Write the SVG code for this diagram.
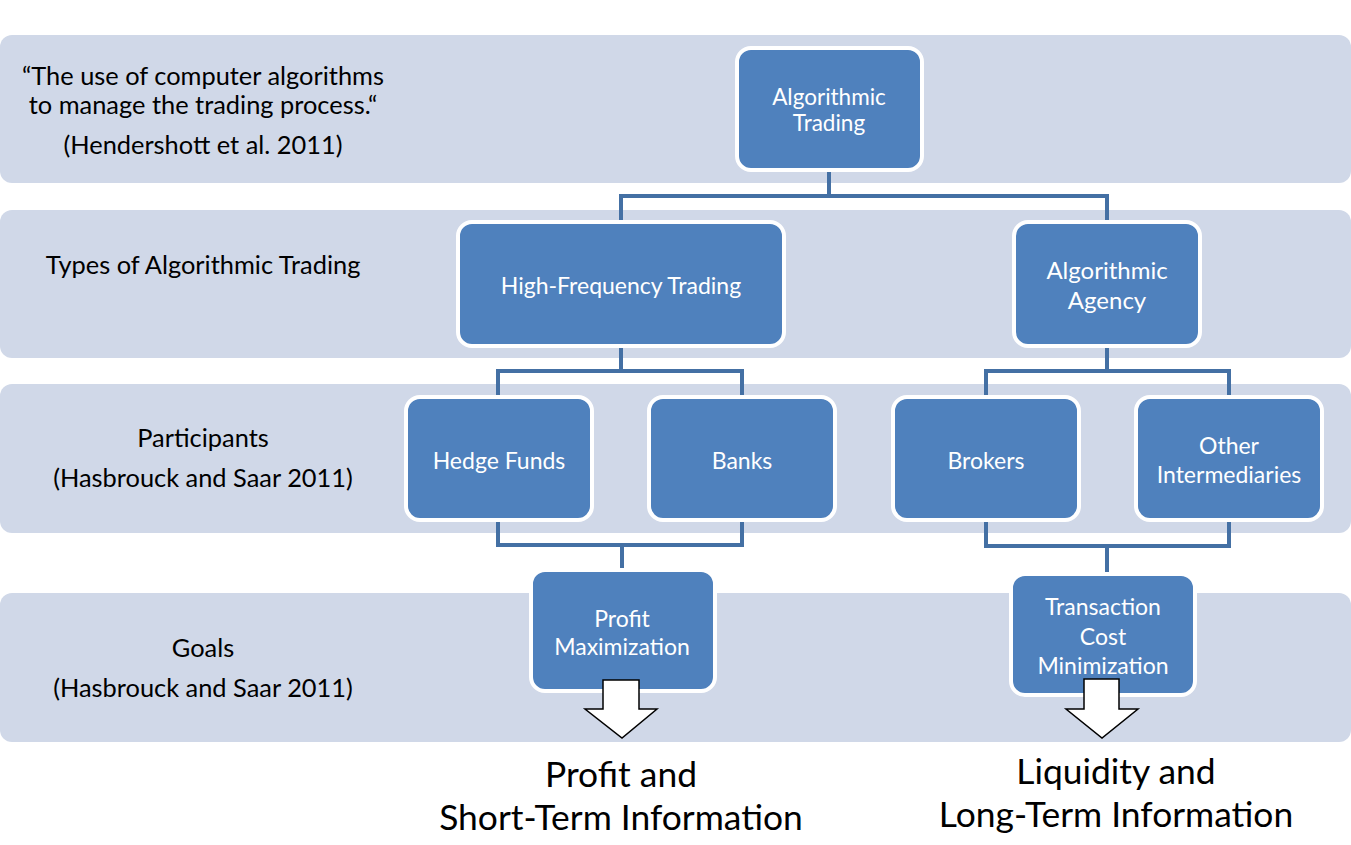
<svg xmlns="http://www.w3.org/2000/svg" width="1351" height="845" viewBox="0 0 1351 845">
<style>
.band{fill:#D0D8E8}
.node{fill:#4F81BD;stroke:#FFFFFF;stroke-width:4}
.nt{font-family:Lato,"Open Sans",sans-serif;font-size:23px;fill:#FFFFFF;text-anchor:middle}
.lt{font-family:Lato,"Open Sans",sans-serif;font-size:25.4px;fill:#000000;text-anchor:middle}
.bt{font-family:Lato,"Open Sans",sans-serif;font-size:35.4px;fill:#000000;text-anchor:middle}
.conn{fill:none;stroke:#4470A4;stroke-width:4}
.arrow{fill:#FFFFFF;stroke:#000000;stroke-width:1.5}
</style>
<rect width="1351" height="845" fill="#FFFFFF"/>
<g id="bands">
<rect class="band" x="0" y="35" width="1351" height="148" rx="12"/>
<rect class="band" x="0" y="210" width="1351" height="148" rx="12"/>
<rect class="band" x="0" y="384" width="1351" height="149" rx="12"/>
<rect class="band" x="0" y="593" width="1351" height="149" rx="12"/>
</g>
<g id="labels">
<text class="lt" x="203" y="85">“The use of computer algorithms</text>
<text class="lt" x="203" y="114">to manage the trading process.“</text>
<text class="lt" x="203" y="154">(Hendershott et al. 2011)</text>
<text class="lt" x="203" y="274">Types of Algorithmic Trading</text>
<text class="lt" x="203" y="447">Participants</text>
<text class="lt" x="203" y="487">(Hasbrouck and Saar 2011)</text>
<text class="lt" x="203" y="657">Goals</text>
<text class="lt" x="203" y="697">(Hasbrouck and Saar 2011)</text>
</g>
<g id="connectors">
<polyline class="conn" points="829,170 829,196 621,196 621,222"/>
<polyline class="conn" points="829,196 1107,196 1107,222"/>
<polyline class="conn" points="621,346 621,371 498,371 498,397"/>
<polyline class="conn" points="621,371 742,371 742,397"/>
<polyline class="conn" points="1107,346 1107,371 986,371 986,397"/>
<polyline class="conn" points="1107,371 1229,371 1229,397"/>
<polyline class="conn" points="498,520 498,545 742,545 742,520"/>
<polyline class="conn" points="622,545 622,570"/>
<polyline class="conn" points="986,520 986,546 1229,546 1229,520"/>
<polyline class="conn" points="1107,546 1107,574"/>
</g>
<g id="n-algo-trading">
<rect class="node" x="737" y="48" width="185" height="122" rx="14"/>
<text class="nt" x="829" y="105" style="font-size:22.5px">Algorithmic</text>
<text class="nt" x="829" y="131" style="font-size:22.5px">Trading</text>
</g>
<g id="n-hft">
<rect class="node" x="458" y="222" width="326" height="124" rx="14"/>
<text class="nt" x="621" y="294">High-Frequency Trading</text>
</g>
<g id="n-algo-agency">
<rect class="node" x="1014" y="222" width="186" height="124" rx="14"/>
<text class="nt" x="1107" y="279" style="font-size:24px">Algorithmic</text>
<text class="nt" x="1107" y="309" style="font-size:24px">Agency</text>
</g>
<g id="n-hedge">
<rect class="node" x="406" y="397" width="186" height="123" rx="14"/>
<text class="nt" x="499" y="469">Hedge Funds</text>
</g>
<g id="n-banks">
<rect class="node" x="649" y="397" width="186" height="123" rx="14"/>
<text class="nt" x="742" y="469">Banks</text>
</g>
<g id="n-brokers">
<rect class="node" x="893" y="397" width="186" height="123" rx="14"/>
<text class="nt" x="986" y="469">Brokers</text>
</g>
<g id="n-other">
<rect class="node" x="1136" y="397" width="186" height="123" rx="14"/>
<text class="nt" x="1229" y="454">Other</text>
<text class="nt" x="1229" y="483">Intermediaries</text>
</g>
<g id="n-profit">
<rect class="node" x="531" y="570" width="184" height="121" rx="14"/>
<text class="nt" x="622" y="627">Profit</text>
<text class="nt" x="622" y="655">Maximization</text>
</g>
<g id="n-tcm">
<rect class="node" x="1011" y="574" width="184" height="121" rx="14"/>
<text class="nt" x="1103" y="615">Transaction</text>
<text class="nt" x="1103" y="645">Cost</text>
<text class="nt" x="1103" y="674">Minimization</text>
</g>
<g id="arrows">
<polygon class="arrow" points="603,680 639,680 639,709 657,709 622,738 585,709 603,709"/>
<polygon class="arrow" points="1084,679 1119,679 1119,709 1138,709 1102,738 1066,709 1084,709"/>
</g>
<g id="outcomes">
<text class="bt" x="621" y="787">Profit and</text>
<text class="bt" x="621" y="830">Short-Term Information</text>
<text class="bt" x="1116" y="784">Liquidity and</text>
<text class="bt" x="1116" y="827">Long-Term Information</text>
</g>
</svg>
